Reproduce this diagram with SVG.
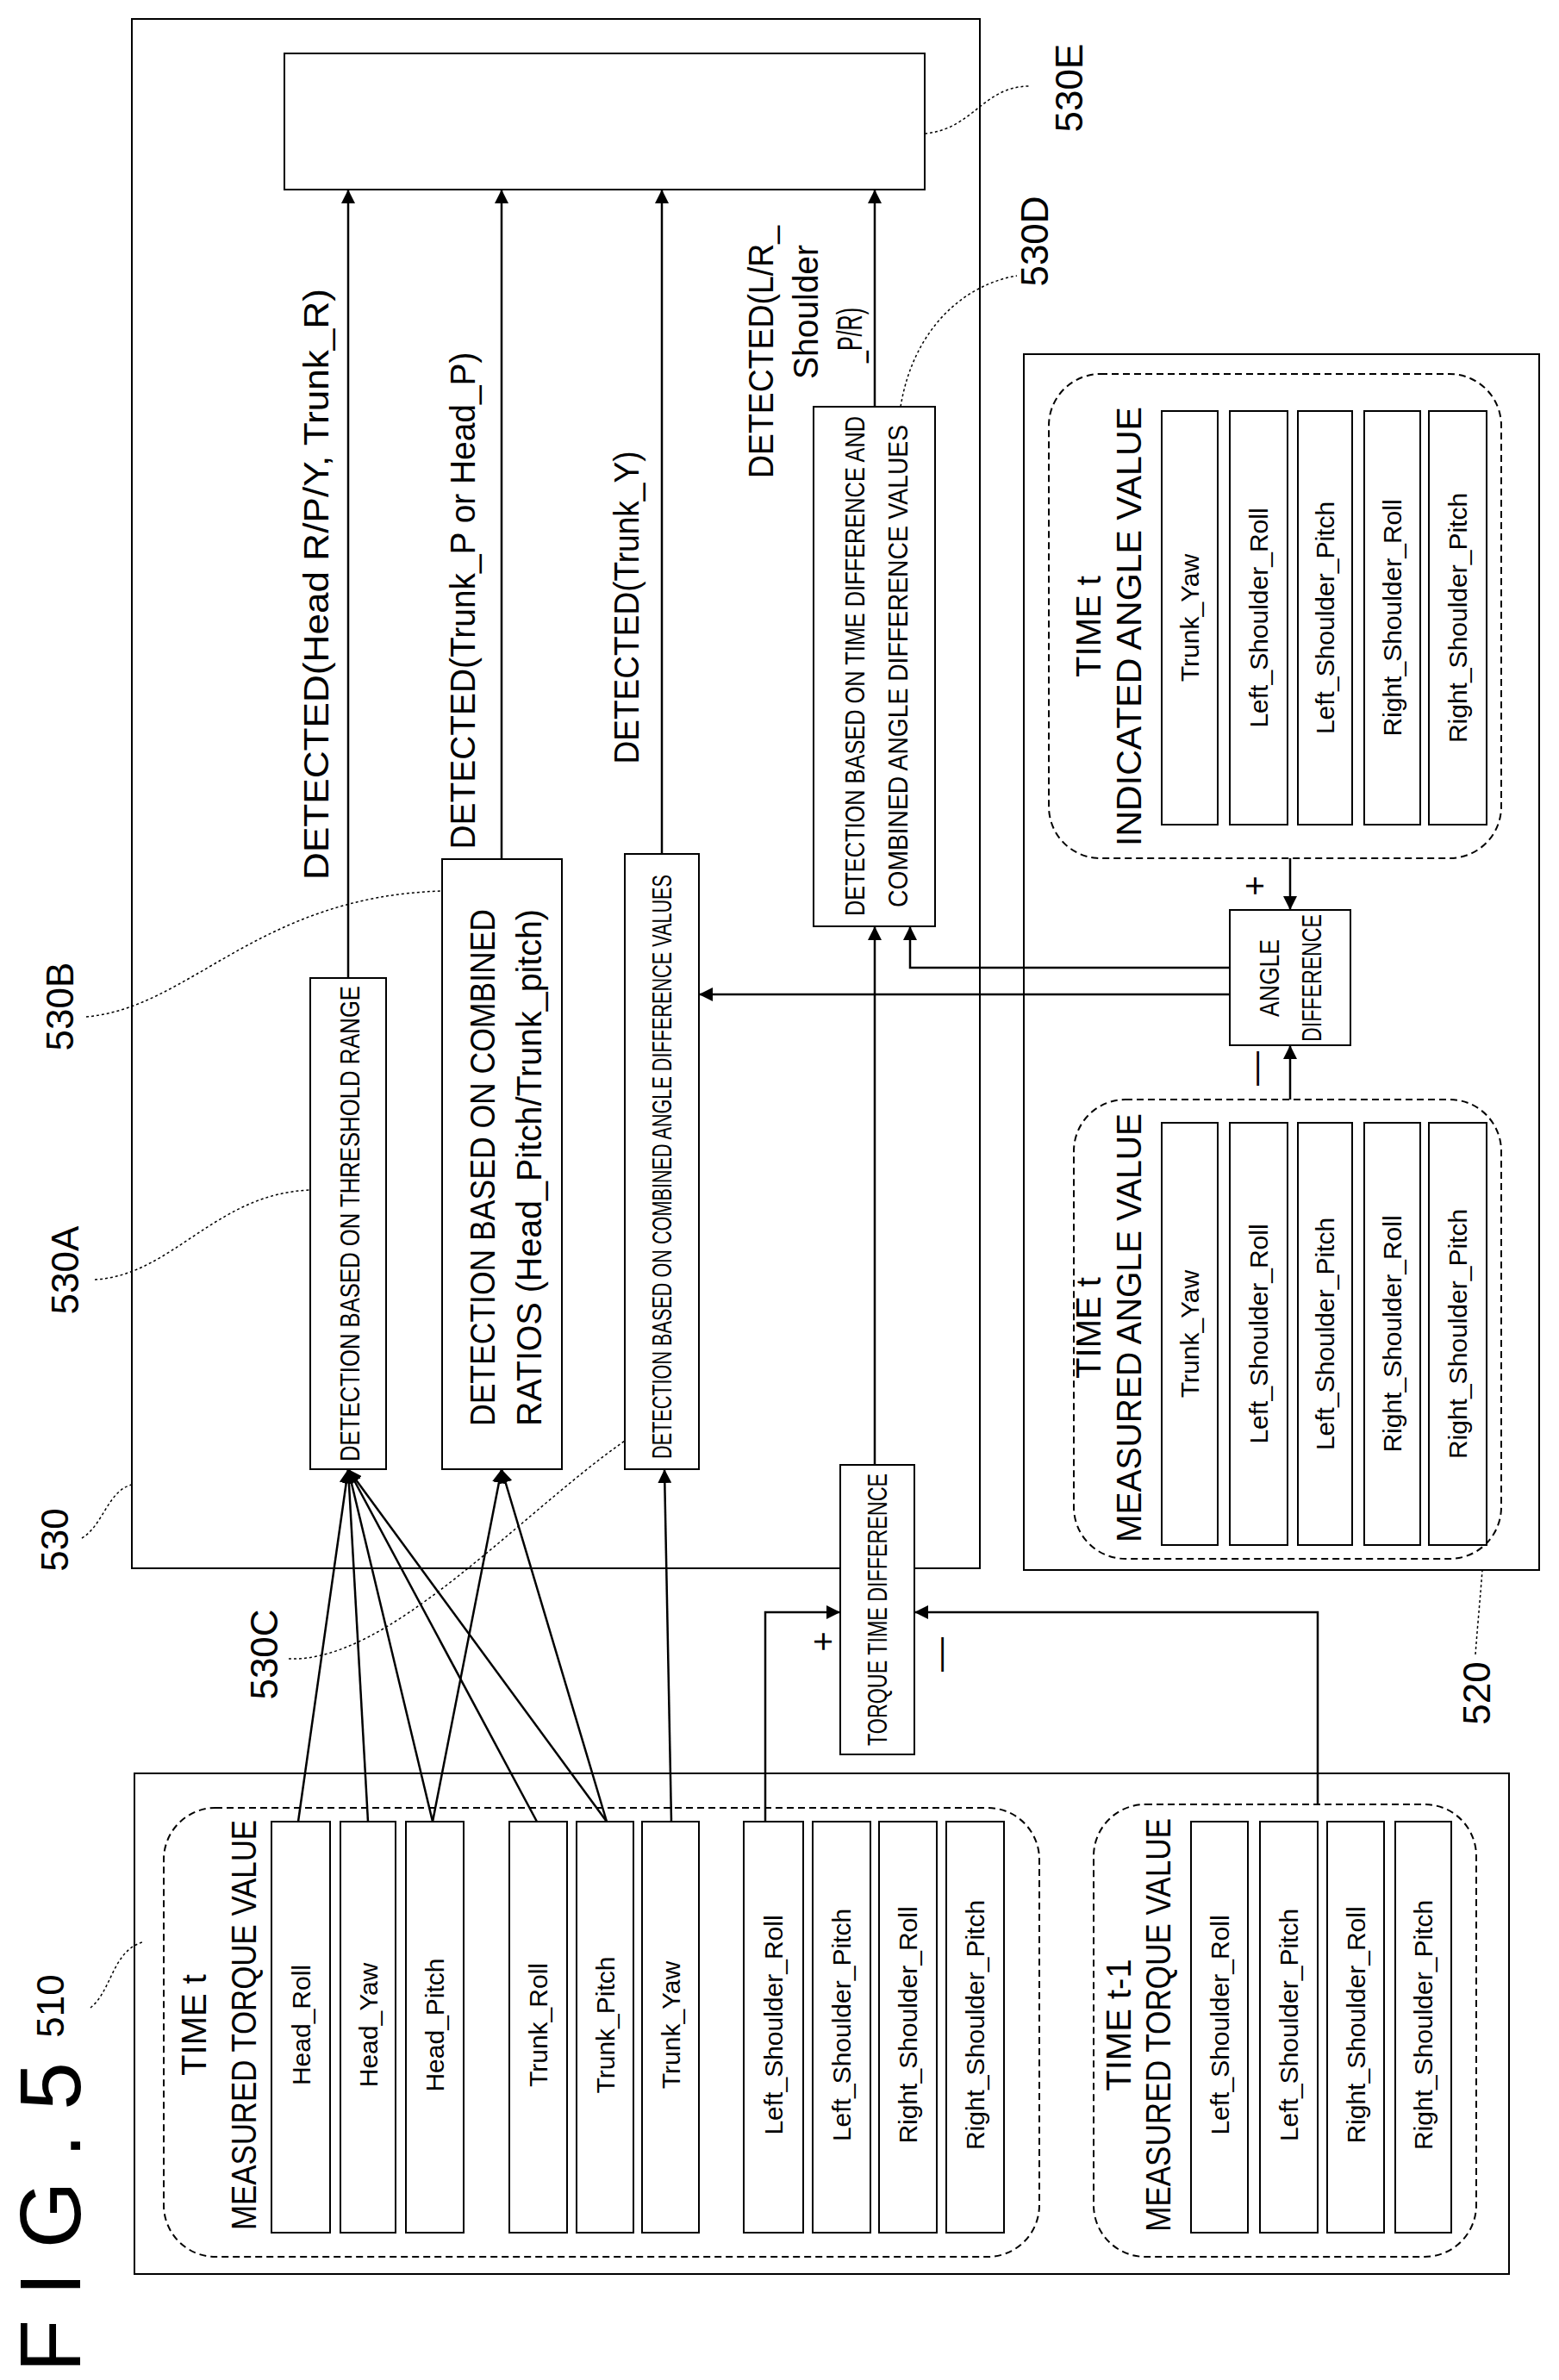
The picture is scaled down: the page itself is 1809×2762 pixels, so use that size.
<svg xmlns="http://www.w3.org/2000/svg" width="1809" height="2762" viewBox="0 0 1809 2762">
<defs>
<marker id="ah" viewBox="0 0 10 10" refX="10" refY="5" markerWidth="16" markerHeight="16" markerUnits="userSpaceOnUse" orient="auto"><path d="M0,0 L10,5 L0,10 z" fill="#000"/></marker>
</defs>
<style>
.b{fill:#fff;stroke:#000;stroke-width:2}
.r{fill:none;stroke:#000;stroke-width:2;stroke-dasharray:8 5}
.l{fill:none;stroke:#000;stroke-width:2.5}
.a{fill:none;stroke:#000;stroke-width:2.5;marker-end:url(#ah)}
.d{fill:none;stroke:#000;stroke-width:1.5;stroke-dasharray:3 3}
text{font-family:"Liberation Sans",Arial,sans-serif;fill:#000;text-anchor:middle;dominant-baseline:central}
.t{font-size:30px}
.h{font-size:40px}
.s{font-size:32px}
.n{font-size:44px}
</style>
<g id="n530"><rect class="b" x="153" y="22" width="984" height="1798"/></g>
<g id="n520"><rect class="b" x="1188" y="411" width="598" height="1411"/></g>
<g id="n530E"><rect class="b" x="330" y="62" width="743" height="158"/></g>
<g id="n530A"><rect class="b" x="360" y="1135" width="88" height="570"/>
<text class="s" transform="translate(406,1420) rotate(-90)" textLength="552" lengthAdjust="spacingAndGlyphs">DETECTION BASED ON THRESHOLD RANGE</text></g>
<g id="n530B"><rect class="b" x="513" y="997" width="139" height="708"/>
<text class="h" transform="translate(560,1355) rotate(-90)" textLength="600" lengthAdjust="spacingAndGlyphs">DETECTION BASED ON COMBINED</text>
<text class="h" transform="translate(614,1355) rotate(-90)" textLength="600" lengthAdjust="spacingAndGlyphs">RATIOS (Head_Pitch/Trunk_pitch)</text></g>
<g id="n530C"><rect class="b" x="725" y="991" width="86" height="714"/>
<text class="s" transform="translate(768,1354) rotate(-90)" textLength="678" lengthAdjust="spacingAndGlyphs">DETECTION BASED ON COMBINED ANGLE DIFFERENCE VALUES</text></g>
<g id="n530D"><rect class="b" x="944" y="472" width="141" height="603"/>
<text class="s" transform="translate(992,773) rotate(-90)" textLength="580" lengthAdjust="spacingAndGlyphs">DETECTION BASED ON TIME DIFFERENCE AND</text>
<text class="s" transform="translate(1042,773) rotate(-90)" textLength="560" lengthAdjust="spacingAndGlyphs">COMBINED ANGLE DIFFERENCE VALUES</text></g>
<g id="nTTD"><rect class="b" x="975" y="1700" width="86" height="336"/>
<text class="s" transform="translate(1018,1868) rotate(-90)" textLength="316" lengthAdjust="spacingAndGlyphs">TORQUE TIME DIFFERENCE</text></g>
<g id="nAD"><rect class="b" x="1427" y="1056" width="140" height="157"/>
<text class="s" transform="translate(1473,1135) rotate(-90)" textLength="90" lengthAdjust="spacingAndGlyphs">ANGLE</text>
<text class="s" transform="translate(1522,1135) rotate(-90)" textLength="148" lengthAdjust="spacingAndGlyphs">DIFFERENCE</text></g>
<g id="nIND"><rect class="r" x="1217" y="434" width="525" height="562" rx="60"/>
<text class="h" transform="translate(1263,727) rotate(-90)">TIME t</text>
<text class="h" transform="translate(1310,727) rotate(-90)" textLength="510" lengthAdjust="spacingAndGlyphs">INDICATED ANGLE VALUE</text>
<rect class="b" x="1348" y="477" width="65" height="480"/><text class="t" transform="translate(1380,717) rotate(-90)">Trunk_Yaw</text>
<rect class="b" x="1427" y="477" width="67" height="480"/><text class="t" transform="translate(1460,717) rotate(-90)">Left_Shoulder_Roll</text>
<rect class="b" x="1506" y="477" width="63" height="480"/><text class="t" transform="translate(1537,717) rotate(-90)">Left_Shoulder_Pitch</text>
<rect class="b" x="1583" y="477" width="65" height="480"/><text class="t" transform="translate(1615,717) rotate(-90)">Right_Shoulder_Roll</text>
<rect class="b" x="1658" y="477" width="67" height="480"/><text class="t" transform="translate(1691,717) rotate(-90)">Right_Shoulder_Pitch</text></g>
<g id="nMAV"><rect class="r" x="1246" y="1276" width="496" height="533" rx="60"/>
<text class="h" transform="translate(1263,1541) rotate(-90)">TIME t</text>
<text class="h" transform="translate(1310,1541) rotate(-90)" textLength="498" lengthAdjust="spacingAndGlyphs">MEASURED ANGLE VALUE</text>
<rect class="b" x="1348" y="1303" width="65" height="490"/><text class="t" transform="translate(1380,1548) rotate(-90)">Trunk_Yaw</text>
<rect class="b" x="1427" y="1303" width="67" height="490"/><text class="t" transform="translate(1460,1548) rotate(-90)">Left_Shoulder_Roll</text>
<rect class="b" x="1506" y="1303" width="63" height="490"/><text class="t" transform="translate(1537,1548) rotate(-90)">Left_Shoulder_Pitch</text>
<rect class="b" x="1583" y="1303" width="65" height="490"/><text class="t" transform="translate(1615,1548) rotate(-90)">Right_Shoulder_Roll</text>
<rect class="b" x="1658" y="1303" width="67" height="490"/><text class="t" transform="translate(1691,1548) rotate(-90)">Right_Shoulder_Pitch</text></g>
<g id="n510"><rect class="b" x="156" y="2058" width="1595" height="581"/></g>
<g id="nMTV"><rect class="r" x="190" y="2098" width="1016" height="521" rx="60"/>
<text class="h" transform="translate(225,2350) rotate(-90)">TIME t</text>
<text class="h" transform="translate(283,2350) rotate(-90)" textLength="476" lengthAdjust="spacingAndGlyphs">MEASURED TORQUE VALUE</text>
<rect class="b" x="315" y="2114" width="68" height="477"/><text class="t" transform="translate(349,2350) rotate(-90)">Head_Roll</text>
<rect class="b" x="395" y="2114" width="64" height="477"/><text class="t" transform="translate(427,2350) rotate(-90)">Head_Yaw</text>
<rect class="b" x="471" y="2114" width="67" height="477"/><text class="t" transform="translate(504,2350) rotate(-90)">Head_Pitch</text>
<rect class="b" x="591" y="2114" width="67" height="477"/><text class="t" transform="translate(624,2350) rotate(-90)">Trunk_Roll</text>
<rect class="b" x="669" y="2114" width="66" height="477"/><text class="t" transform="translate(702,2350) rotate(-90)">Trunk_Pitch</text>
<rect class="b" x="745" y="2114" width="66" height="477"/><text class="t" transform="translate(778,2350) rotate(-90)">Trunk_Yaw</text>
<rect class="b" x="863" y="2114" width="69" height="477"/><text class="t" transform="translate(897,2350) rotate(-90)">Left_Shoulder_Roll</text>
<rect class="b" x="943" y="2114" width="67" height="477"/><text class="t" transform="translate(976,2350) rotate(-90)">Left_Shoulder_Pitch</text>
<rect class="b" x="1020" y="2114" width="67" height="477"/><text class="t" transform="translate(1053,2350) rotate(-90)">Right_Shoulder_Roll</text>
<rect class="b" x="1098" y="2114" width="67" height="477"/><text class="t" transform="translate(1131,2350) rotate(-90)">Right_Shoulder_Pitch</text></g>
<g id="nMTV1"><rect class="r" x="1269" y="2094" width="444" height="525" rx="60"/>
<text class="h" transform="translate(1298,2350) rotate(-90)">TIME t-1</text>
<text class="h" transform="translate(1344,2350) rotate(-90)" textLength="480" lengthAdjust="spacingAndGlyphs">MEASURED TORQUE VALUE</text>
<rect class="b" x="1382" y="2114" width="66" height="477"/><text class="t" transform="translate(1415,2350) rotate(-90)">Left_Shoulder_Roll</text>
<rect class="b" x="1462" y="2114" width="67" height="477"/><text class="t" transform="translate(1495,2350) rotate(-90)">Left_Shoulder_Pitch</text>
<rect class="b" x="1540" y="2114" width="66" height="477"/><text class="t" transform="translate(1573,2350) rotate(-90)">Right_Shoulder_Roll</text>
<rect class="b" x="1619" y="2114" width="65" height="477"/><text class="t" transform="translate(1651,2350) rotate(-90)">Right_Shoulder_Pitch</text></g>
<g id="connectors">
<path class="a" d="M404,1135 V220"/>
<path class="a" d="M582,997 V220"/>
<path class="a" d="M768,991 V220"/>
<path class="a" d="M1015,472 V220"/>
<path class="a" d="M346,2114 L404,1705"/>
<path class="a" d="M427,2114 L404,1705"/>
<path class="a" d="M502,2114 L404,1705"/>
<path class="a" d="M623,2114 L404,1705"/>
<path class="a" d="M704,2114 L404,1705"/>
<path class="a" d="M502,2114 L582,1705"/>
<path class="a" d="M704,2114 L582,1705"/>
<path class="a" d="M779,2114 L771,1705"/>
<path class="a" d="M1015,1700 V1075"/>
<path class="a" d="M888,2114 V1871 H975"/>
<path class="a" d="M1529,2094 V1871 H1061"/>
<path class="a" d="M1497,996 V1056"/>
<path class="a" d="M1497,1276 V1213"/>
<path class="a" d="M1427,1123 H1056 V1075"/>
<path class="a" d="M1427,1154 H811"/>
<path class="d" d="M1073,155 C1130,150 1140,100 1195,100"/>
<path class="d" d="M1045,472 C1060,380 1120,330 1180,320"/>
<path class="d" d="M100,1180 C220,1170 300,1040 513,1034"/>
<path class="d" d="M110,1485 C200,1480 250,1385 360,1381"/>
<path class="d" d="M95,1785 C120,1770 125,1730 153,1723"/>
<path class="d" d="M335,1925 C450,1930 600,1760 725,1672"/>
<path class="d" d="M105,2330 C130,2310 130,2265 165,2254"/>
<path class="d" d="M1712,1920 C1715,1880 1718,1850 1720,1822"/>
</g>
<g id="labels">
<text class="h" transform="translate(367,678) rotate(-90)" textLength="686" lengthAdjust="spacingAndGlyphs">DETECTED(Head R/P/Y, Trunk_R)</text>
<text class="h" transform="translate(537,697) rotate(-90)" textLength="577" lengthAdjust="spacingAndGlyphs">DETECTED(Trunk_P or Head_P)</text>
<text class="h" transform="translate(727,705) rotate(-90)" textLength="363" lengthAdjust="spacingAndGlyphs">DETECTED(Trunk_Y)</text>
<text class="h" style="text-anchor:start" transform="translate(883,555) rotate(-90)" textLength="293" lengthAdjust="spacingAndGlyphs">DETECTED(L/R_</text>
<text class="h" style="text-anchor:start" transform="translate(935,440) rotate(-90)" textLength="156" lengthAdjust="spacingAndGlyphs">Shoulder</text>
<text class="h" style="text-anchor:start" transform="translate(986,421) rotate(-90)" textLength="64" lengthAdjust="spacingAndGlyphs">_P/R)</text>
<text class="h" transform="translate(1456,1028) rotate(-90)">+</text>
<text class="h" transform="translate(1456,1240) rotate(-90)">—</text>
<text class="h" transform="translate(955,1905) rotate(-90)">+</text>
<text class="h" transform="translate(1090,1920) rotate(-90)">—</text>
<text class="n" transform="translate(1240,102) rotate(-90)">530E</text>
<text class="n" transform="translate(1200,280) rotate(-90)">530D</text>
<text class="n" transform="translate(69,1168) rotate(-90)">530B</text>
<text class="n" transform="translate(75,1474) rotate(-90)">530A</text>
<text class="n" transform="translate(63,1787) rotate(-90)">530</text>
<text class="n" transform="translate(306,1920) rotate(-90)">530C</text>
<text class="n" transform="translate(58,2328) rotate(-90)">510</text>
<text class="n" transform="translate(1713,1965) rotate(-90)">520</text>
<text style="font-size:100px" transform="translate(58,2573) rotate(-90)" textLength="360" lengthAdjust="spacing">FIG.5</text>
</g>
</svg>
